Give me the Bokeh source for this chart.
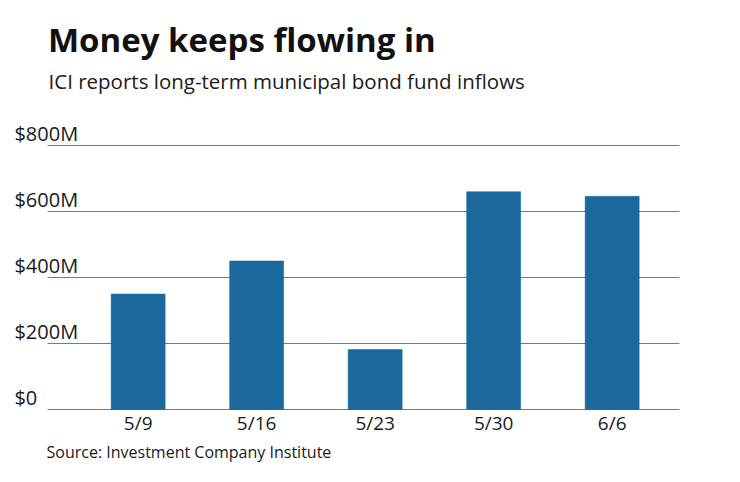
from bokeh.plotting import figure
from bokeh.models import Range1d, Label
from bokeh.core.properties import value
from bokeh.embed import file_html
from bokeh.resources import INLINE

# ---- data ----
dates = ["5/9", "5/16", "5/23", "5/30", "6/6"]
inflows = [350, 450, 182, 660, 646]          # $ millions
y_ticks = [0, 200, 400, 600, 800]
y_tick_labels = ["$0", "$200M", "$400M", "$600M", "$800M"]
title_text = "Money keeps flowing in"
subtitle_text = "ICI reports long-term municipal bond fund inflows"
source_text = "Source: Investment Company Institute"

W, H = 724, 466
FONT = "Open Sans"

# plotting frame covers the whole canvas; ranges chosen so that the
# chart area sits where the reference has it
p = figure(width=W, height=H, output_backend="svg", toolbar_location=None,
           x_range=Range1d(-1.1616, 4.948), y_range=Range1d(-172.7, 1239.4),
           x_axis_location=None, y_axis_location=None,
           min_border=0)
p.outline_line_color = None
p.background_fill_color = "white"
p.border_fill_color = "white"
p.grid.visible = False

xs = list(range(len(dates)))
GRID_X0, GRID_X1 = -0.765, 4.568
LABEL_X = -1.044

# gridlines
p.segment(x0=[GRID_X0] * len(y_ticks), x1=[GRID_X1] * len(y_ticks),
          y0=y_ticks, y1=y_ticks, line_color="#7a7a7a", line_width=1)

# bars
p.vbar(x=xs, top=inflows, width=0.456, bottom=0,
       fill_color="#1b689f", line_color="#1b689f", line_width=0.5)

# category labels
p.text(x=xs, y=[0] * len(xs), text=dates, y_offset=13.5,
       text_font=value(FONT), text_font_size="19px", text_color="#1a1a1a",
       text_align="center", text_baseline="middle")

# y tick labels sitting above the gridlines
p.text(x=[LABEL_X] * len(y_ticks), y=y_ticks, text=y_tick_labels, y_offset=-12,
       text_font=value(FONT), text_font_size="20px", text_color="#1a1a1a",
       text_align="left", text_baseline="middle")

# title, subtitle, source
p.add_layout(Label(x=47.5, x_units="screen", y=H - 39, y_units="screen",
                   text=title_text, text_font=FONT, text_font_size="33px",
                   text_font_style="bold", text_color="#111111",
                   text_baseline="middle", text_align="left"))
p.add_layout(Label(x=48, x_units="screen", y=H - 80, y_units="screen",
                   text=subtitle_text, text_font=FONT, text_font_size="20.5px",
                   text_color="#1a1a1a", text_baseline="middle", text_align="left"))
p.add_layout(Label(x=46, x_units="screen", y=H - 451, y_units="screen",
                   text=source_text, text_font=FONT, text_font_size="16px",
                   text_color="#1a1a1a", text_baseline="middle", text_align="left"))

open("out.html", "w").write(file_html(p, INLINE))
